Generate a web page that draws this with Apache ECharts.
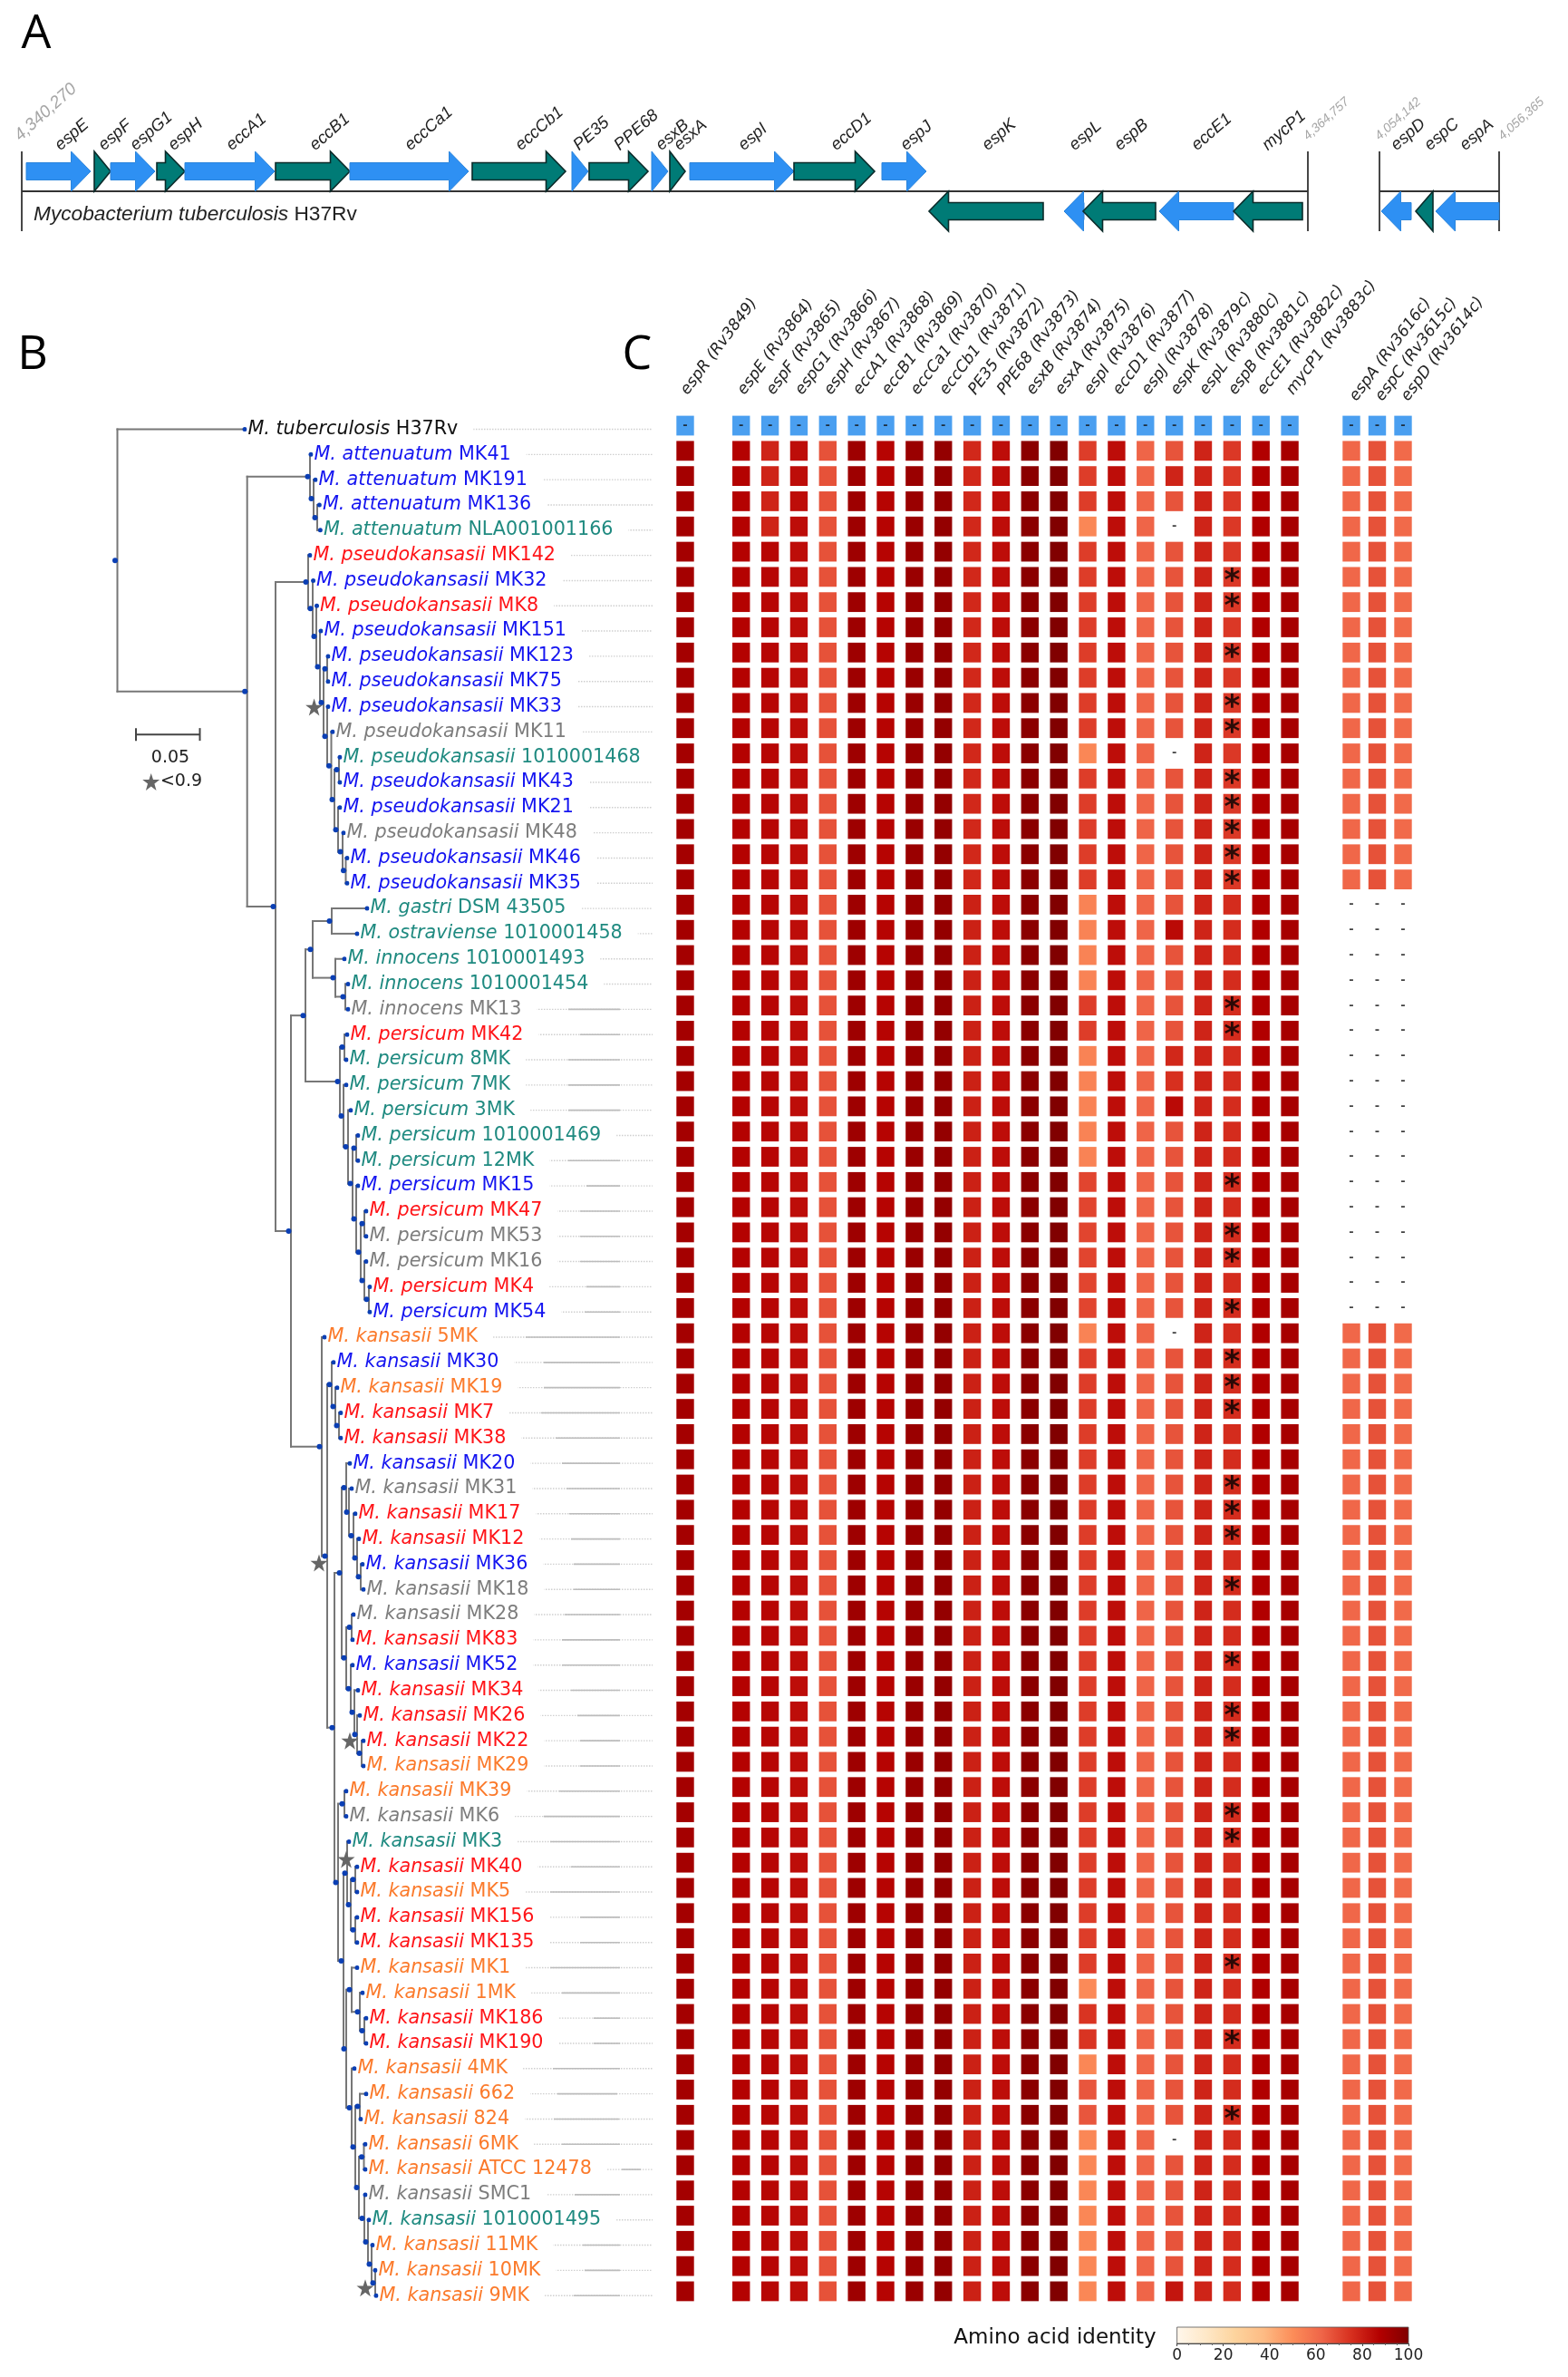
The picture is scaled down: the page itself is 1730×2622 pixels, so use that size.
<!DOCTYPE html>
<html><head><meta charset="utf-8">
<style>html,body{margin:0;padding:0;background:#fff}#c{width:1730px;height:2622px}</style>
<script src="https://cdn.jsdelivr.net/npm/echarts@6/dist/echarts.min.js"></script>
</head><body><div id="c"></div>
<script>
// ---------- Panel A: gene map (position = horizontal map position, strand 1 / -1)
const geneNames  = ['espE','espF','espG1','espH','eccA1','eccB1','eccCa1','eccCb1','PE35','PPE68','esxB','esxA','espI','eccD1','espJ','espK','espL','espB','eccE1','mycP1','espD','espC','espA'];
const geneStart  = [29,104,122,173,204,304,386,521,631,650,719,739,761,876,973,1025,1174,1195,1279,1361,1524,1562,1584];
const geneEnd    = [100,122,171,204,303,386,517,624,649,715,737,756,876,965,1022,1151,1196,1275,1361,1437,1557,1581,1654];
const geneStrand = [1,1,1,1,1,1,1,1,1,1,1,1,1,1,1,-1,-1,-1,-1,-1,-1,-1,-1];
const geneClass  = ['b','t','b','t','b','t','b','t','b','t','b','t','b','t','b','t','b','t','b','t','b','t','b'];
const geneLabelX = [63.5,111.5,146.5,188.5,252.5,344.5,449.5,571.5,635.5,680.5,726.5,746.5,817.5,919.5,996.5,1086.5,1182.5,1232.5,1317.5,1395.5,1537.5,1574.5,1613.5];
const locusBounds = [[24,1443],[1522,1654]];
const coordLabels = ['4,340,270','4,364,757','4,054,142','4,056,365'];
const coordLabelX = [19,1440.5,1519.5,1655.5];
const coordLabelSize = [19,14,14,14];

// ---------- Panel B: strains and tree
const rowNames = ['M. tuberculosis|H37Rv','M. attenuatum|MK41','M. attenuatum|MK191','M. attenuatum|MK136','M. attenuatum|NLA001001166',
'M. pseudokansasii|MK142','M. pseudokansasii|MK32','M. pseudokansasii|MK8','M. pseudokansasii|MK151','M. pseudokansasii|MK123','M. pseudokansasii|MK75','M. pseudokansasii|MK33','M. pseudokansasii|MK11','M. pseudokansasii|1010001468','M. pseudokansasii|MK43','M. pseudokansasii|MK21','M. pseudokansasii|MK48','M. pseudokansasii|MK46','M. pseudokansasii|MK35',
'M. gastri|DSM 43505','M. ostraviense|1010001458','M. innocens|1010001493','M. innocens|1010001454','M. innocens|MK13',
'M. persicum|MK42','M. persicum|8MK','M. persicum|7MK','M. persicum|3MK','M. persicum|1010001469','M. persicum|12MK','M. persicum|MK15','M. persicum|MK47','M. persicum|MK53','M. persicum|MK16','M. persicum|MK4','M. persicum|MK54',
'M. kansasii|5MK','M. kansasii|MK30','M. kansasii|MK19','M. kansasii|MK7','M. kansasii|MK38','M. kansasii|MK20','M. kansasii|MK31','M. kansasii|MK17','M. kansasii|MK12','M. kansasii|MK36','M. kansasii|MK18','M. kansasii|MK28','M. kansasii|MK83','M. kansasii|MK52','M. kansasii|MK34','M. kansasii|MK26','M. kansasii|MK22','M. kansasii|MK29','M. kansasii|MK39','M. kansasii|MK6','M. kansasii|MK3','M. kansasii|MK40','M. kansasii|MK5','M. kansasii|MK156','M. kansasii|MK135','M. kansasii|MK1','M. kansasii|1MK','M. kansasii|MK186','M. kansasii|MK190','M. kansasii|4MK','M. kansasii|662','M. kansasii|824','M. kansasii|6MK','M. kansasii|ATCC 12478','M. kansasii|SMC1','M. kansasii|1010001495','M. kansasii|11MK','M. kansasii|10MK','M. kansasii|9MK'];
const rowGroups = ['k','bbb','t','r','b','r','bbbb','g','t','bb','g','bb','tttt','g','r','ttttt','b','r','gg','r','b','o','b','o','rr','b','g','rr','b','g','g','r','b','rrr','o','o','g','t','r','o','rr','o','o','rr','ooooo','g','t','ooo'].join('').split('');
const tipX = [270,343,348,352.4,353.4,342,345.6,349.5,354,362,362,362,367,375,375,375,379,383,383,405,394,380,384,384,383,382,382,387,395,395,395,404,404,404,408,408,358,368,372,376,376,386,388,392,396,400,401,390,389,389,395,397,401,401,382,382,385,394,394,394,394,394,400,404,404,391,404,398,403,403,403,407,411,414,415];
// nested [branch position, child, child]; a bare number is a row index
const tree = [129.5, 0,
 [272.7,
  [342, 1, [346, 2, [350, 3, 4]]],
  [304,
   [340, 5, [345, 6, [349, 7, [353, 8, [357, [361, 9, 10], [361, 11, [365.5, 12, [369, [374, 13, 14], [373, 15, [378, 16, [381.5, 17, 18]]]]]]]]]]],
   [321,
    [337,
     [345, [366, 19, 20], [370, 21, [381, 22, 23]]],
     [375, [380, 24, 25], [379, 26, [384, 27, [389, [393, 28, 29], [393, 30, [398, [402, 31, 32], [402, 33, [407, 34, 35]]]]]]]]],
    [355, 36,
     [361,
      [366, 37, [370, 38, [374, 39, 40]]],
      [369,
       [377,
        [382, 41, [385, 42, [390, 43, [394, 44, [398, 45, 46]]]]],
        [382, [388, 47, 48], [387, 49, [391, 50, [394, 51, [399, 52, 53]]]]]],
       [373, [380, 54, 55],
        [379,
         [383, 56, [387, [392, 57, 58], [392, 59, 60]]],
         [382,
          [388, 61, [397, 62, [402, 63, 64]]],
          [388, 65, [392, [397, 66, 67], [396, [401.5, 68, 69], [402, 70, [406, 71, [410, 72, [414, 73, 74]]]]]]]]]]]]]]]]];
const lowSupportX = [346.6,352,386,382,403,166.7];
const lowSupportRow = [11.02,44.95,52,56.7,73.7,13.98];
const scaleBar = [150,220.5];
const scaleBarRow = 12.1;
const leaderEnd = 720;
// denser middle stretch of the alignment tracks: [row, from, to]
const leaderCores = [[23,627,684],[24,640,684],[25,627,684],[26,627,684],[27,627,684],[29,627,684],[30,647,684],[31,640,684],[32,640,684],[33,640,684],[34,647,684],[35,645,684],[36,580,684],[37,600,684],[38,600,684],[39,597,684],[40,613,684],[41,620,684],[42,625,684],[43,628,684],[44,630,684],[45,633,684],[46,633,684],[47,623,684],[48,620,684],[49,620,684],[50,630,684],[51,637,684],[52,640,684],[53,640,684],[54,617,684],[55,600,684],[56,607,684],[57,630,684],[58,607,684],[59,640,684],[60,640,684],[61,607,684],[62,620,684],[63,655,684],[64,655,684],[65,610,684],[66,615,681],[67,611,683],[68,620,684],[69,686,707],[70,634,684],[72,643,684],[73,645,684],[74,633,684]];

// ---------- Panel C: amino acid identity
const colNamesR = ['espR (Rv3849)'];
const colNamesMain = ['espE (Rv3864)','espF (Rv3865)','espG1 (Rv3866)','espH (Rv3867)','eccA1 (Rv3868)','eccB1 (Rv3869)','eccCa1 (Rv3870)','eccCb1 (Rv3871)','PE35 (Rv3872)','PPE68 (Rv3873)','esxB (Rv3874)','esxA (Rv3875)','espI (Rv3876)','eccD1 (Rv3877)','espJ (Rv3878)','espK (Rv3879c)','espL (Rv3880c)','espB (Rv3881c)','eccE1 (Rv3882c)','mycP1 (Rv3883c)'];
const colNamesC = ['espA (Rv3616c)','espC (Rv3615c)','espD (Rv3614c)'];
const identityBase = {espR:91,espE:87,espF:86,espG1:84,espH:67,eccA1:92.5,eccB1:86.5,eccCa1:93.5,eccCb1:95,PE35:79,PPE68:84,esxB:97,esxA:99.5,espI:72,eccD1:84,espJ:62.5,espK:66.5,espL:78,espB:76,eccE1:88,mycP1:90.5,espA:62,espC:67,espD:61};
// [first row, last row, identity]; null = gene absent
const identityRanges = {
 espF:[[1,4,78]],
 espI:[[4,4,52],[13,13,52],[19,22,53],[25,29,53],[30,35,70],[36,36,53],[62,62,51],[63,64,74],[65,65,52],[66,67,66],[68,74,52]],
 espK:[[2,2,78],[4,4,null],[13,13,null],[20,20,85],[25,25,77],[26,26,75],[27,27,85],[36,36,null],[68,68,null],[74,74,82]],
 espB:[[1,18,73]],
 PE35:[[1,18,77]],
 espA:[[19,35,null]], espC:[[19,35,null]], espD:[[19,35,null]]
};
const asteriskRows = [6,7,9,11,12,14,15,16,17,18,23,24,30,32,33,35,37,38,39,42,43,44,46,49,51,52,55,56,61,64,67];
const colorbarTicks = [0,20,40,60,80,100];
const identityPalette = ['#fff7ec','#fee8c8','#fdd49e','#fdbb84','#fc8d59','#ef6548','#d7301f','#b30000','#7f0000'];

// ---------- styles and layout
const GROUP_COLOR = {k:'#111111',b:'#1414f0',t:'#1f8a80',r:'#ff1418',g:'#7d7d7d',o:'#fb7a2b'};
const SANS = '"DejaVu Sans"';
const CELL_ROW = 27.81, CELL_TOP = 455.6, TREE_ROW = 27.82, TREE_TOP = 459.6;
const STAR = 'path://M50 2 L62 37 L99 37 L69 59 L80 95 L50 73 L20 95 L31 59 L1 37 L38 37 Z';

function rowIdentity(col,row){
  for(const [a,b,v] of (identityRanges[col]||[])) if(row>=a&&row<=b) return v;
  return identityBase[col];
}
const edges=[], nodeDots=[];
(function layout(n){
  if(typeof n==='number') return {x:tipX[n],y:n};
  const x=n[0], kids=n.slice(1).map(layout);
  const y=(kids[0].y+kids[kids.length-1].y)/2;
  edges.push([x,kids[0].y,x,kids[kids.length-1].y]);
  kids.forEach(k=>edges.push([x,k.y,k.x,k.y]));
  nodeDots.push([x,y]);
  return {x,y};
})(tree);

const grid=[
 {left:0,width:1730,top:145,height:132},
 {left:0,width:760,top:TREE_TOP,height:TREE_ROW*75},
 {left:740,width:32,top:CELL_TOP,height:CELL_ROW*75},
 {left:801.8,width:637.2,top:CELL_TOP,height:CELL_ROW*75},
 {left:1476.75,width:85.5,top:CELL_TOP,height:CELL_ROW*75},
 {left:1298.6,width:255.4,top:2567,height:18}
];
const hidden={show:false};
const rowCats=rowNames.map(n=>n);
const headerAxis=(names,gi)=>({type:'category',gridIndex:gi,data:names,show:false});
const rowAxis=gi=>({type:'category',gridIndex:gi,data:rowCats,inverse:true,show:false});
const xAxis=[
 {type:'value',gridIndex:0,min:0,max:1730,show:false},
 {type:'value',gridIndex:1,min:0,max:760,show:false},
 headerAxis(colNamesR,2),headerAxis(colNamesMain,3),headerAxis(colNamesC,4),
 {type:'value',gridIndex:5,min:0,max:100,interval:20,position:'bottom',axisLine:{show:true,lineStyle:{color:'#444',width:1}},
   axisTick:{show:true,length:3,inside:false,lineStyle:{color:'#444'}},minorTick:{show:true,length:2,splitNumber:4,lineStyle:{color:'#666'}},splitLine:hidden,minorSplitLine:hidden,
   axisLabel:{fontFamily:SANS,fontSize:17,color:'#222',margin:5,customValues:colorbarTicks,showMinLabel:true,showMaxLabel:true}}
];
const yAxis=[
 {type:'value',gridIndex:0,min:-3,max:3,show:false},
 {type:'value',gridIndex:1,min:-0.5,max:74.5,inverse:true,show:false},
 rowAxis(2),rowAxis(3),rowAxis(4),
 {type:'value',gridIndex:5,min:0,max:1,show:false}
];

const series=[];
// gene arrows
series.push({type:'custom',xAxisIndex:0,yAxisIndex:0,silent:true,clip:false,z:3,
 data:geneNames.map((n,i)=>[geneStart[i],geneEnd[i],geneStrand[i]]),
 renderItem(p,api){
  const i=p.dataIndex,st=api.value(2);
  const a=api.coord([api.value(0),st]),b=api.coord([api.value(1),st]);
  const len=b[0]-a[0],head=Math.min(21.5,len),hh=22,hs=9.5,y=a[1],blue=geneClass[i]==='b';
  const tail=st>0?a[0]:b[0],tip=st>0?b[0]:a[0],d=st>0?1:-1,neck=tip-d*head;
  const pts=len<=21.5?[[tail,y-hh],[tip,y],[tail,y+hh]]
   :[[tail,y-hs],[neck,y-hs],[neck,y-hh],[tip,y],[neck,y+hh],[neck,y+hs],[tail,y+hs]];
  return {type:'polygon',shape:{points:pts},style:{fill:blue?'#2e90f3':'#007b76',stroke:blue?'#2a84dc':'#0b2b2a',lineWidth:blue?1:1.6}};
 }});
// locus lines
series.push({type:'custom',xAxisIndex:0,yAxisIndex:0,silent:true,clip:false,z:2,
 data:locusBounds,
 renderItem(p,api){
  const l=api.coord([api.value(0),0]),r=api.coord([api.value(1),0]);
  const up=api.coord([0,2])[1],dn=api.coord([0,-2])[1];
  const st={stroke:'#333',lineWidth:1.8};
  return {type:'group',children:[
   {type:'line',shape:{x1:l[0],y1:l[1],x2:r[0],y2:r[1]},style:{stroke:'#333',lineWidth:2.2}},
   {type:'line',shape:{x1:l[0],y1:up,x2:l[0],y2:dn},style:st},
   {type:'line',shape:{x1:r[0],y1:up,x2:r[0],y2:dn},style:st}]};
 }});
// rotated labels
const rotText=(pt,text,font,fill,deg)=>({type:'text',x:pt[0],y:pt[1],rotation:deg*Math.PI/180,style:{text,font,fill,align:'left',verticalAlign:'middle'}});
series.push({type:'custom',xAxisIndex:0,yAxisIndex:0,silent:true,clip:false,z:4,
 data:geneLabelX.map(x=>[x,2.2]),
 renderItem(p,api){return rotText(api.coord([api.value(0),api.value(1)]),geneNames[p.dataIndex],'italic 18.5px "Liberation Sans"','#222',41);}});
series.push({type:'custom',xAxisIndex:0,yAxisIndex:0,silent:true,clip:false,z:4,
 data:coordLabelX.map(x=>[x,2.68]),
 renderItem(p,api){const i=p.dataIndex;return rotText(api.coord([api.value(0),api.value(1)]),coordLabels[i],'italic '+coordLabelSize[i]+'px "Liberation Sans"','#a6a6a6',42);}});
// leaders, tree, scale bar
series.push({type:'custom',xAxisIndex:1,yAxisIndex:1,silent:true,clip:false,z:1,
 data:tipX.map((x,i)=>[x,i]),
 renderItem(p,api){const a=api.coord([api.value(0),api.value(1)]),b=api.coord([leaderEnd,api.value(1)]);
  return {type:'line',shape:{x1:a[0],y1:a[1],x2:b[0],y2:b[1]},style:{stroke:'#cfcfcf',lineWidth:1.4,lineDash:[1.5,1.5]}};}});
series.push({type:'custom',xAxisIndex:1,yAxisIndex:1,silent:true,clip:false,z:1,
 data:leaderCores.map(d=>[d[1],d[0],d[2]]),
 renderItem(p,api){const a=api.coord([api.value(0),api.value(1)]),b=api.coord([api.value(2),api.value(1)]);
  return {type:'line',shape:{x1:a[0],y1:a[1],x2:b[0],y2:b[1]},style:{stroke:'#bcbcbc',lineWidth:1.6}};}});
series.push({type:'custom',xAxisIndex:1,yAxisIndex:1,silent:true,clip:false,z:3,
 data:edges,
 renderItem(p,api){const a=api.coord([api.value(0),api.value(1)]),b=api.coord([api.value(2),api.value(3)]);
  return {type:'line',shape:{x1:a[0],y1:a[1],x2:b[0],y2:b[1]},style:{stroke:'#777',lineWidth:2,lineCap:'square'}};}});
series.push({type:'custom',xAxisIndex:1,yAxisIndex:1,silent:true,clip:false,z:3,
 data:[[scaleBar[0],scaleBar[1],scaleBarRow]],
 renderItem(p,api){const a=api.coord([api.value(0),api.value(2)]),b=api.coord([api.value(1),api.value(2)]);const st={stroke:'#444',lineWidth:2};
  return {type:'group',children:[{type:'line',shape:{x1:a[0],y1:a[1],x2:b[0],y2:b[1]},style:st},
   {type:'line',shape:{x1:a[0],y1:a[1]-7,x2:a[0],y2:a[1]+7},style:st},{type:'line',shape:{x1:b[0],y1:b[1]-7,x2:b[0],y2:b[1]+7},style:st}]};}});
// strain labels
const labelRich={};
Object.keys(GROUP_COLOR).forEach(g=>{labelRich['i'+g]={fontStyle:'italic',color:GROUP_COLOR[g],fontFamily:SANS,fontSize:20.7};labelRich['n'+g]={color:GROUP_COLOR[g],fontFamily:SANS,fontSize:20.7};});
series.push({type:'scatter',xAxisIndex:1,yAxisIndex:1,silent:true,z:5,clip:false,symbolSize:5,itemStyle:{color:'#0b3fb4',opacity:1},
 data:tipX.map((x,i)=>{const [sp,id]=rowNames[i].split('|'),g=rowGroups[i];
  return {value:[x,i],label:{show:true,position:'right',distance:0,backgroundColor:'#fff',padding:[0,17,0,1],rich:labelRich,formatter:'{i'+g+'|'+sp+' }{n'+g+'|'+id+'}'}};})});
series.push({type:'scatter',xAxisIndex:1,yAxisIndex:1,silent:true,z:6,clip:false,symbolSize:6,symbolOffset:[-2.5,0],itemStyle:{color:'#0b3fb4',opacity:1},data:nodeDots});
series.push({type:'scatter',xAxisIndex:1,yAxisIndex:1,silent:true,z:7,clip:false,symbol:STAR,symbolSize:19,itemStyle:{color:'#666',opacity:1},data:lowSupportX.map((x,i)=>[x,lowSupportRow[i]])});
// heat blocks
const blocks=[{names:colNamesR,ax:2,dx:-1,dy:-36},{names:colNamesMain,ax:3,dx:0,dy:-36},{names:colNamesC,ax:4,dx:2,dy:-29}];
const heatIdx=[];
blocks.forEach(b=>{
 const cells=[],marks=[],header=[];
 b.names.forEach((nm,c)=>{
  const key=nm.split(' ')[0];
  header.push([c,0]);
  marks.push({value:[c,0],label:{show:true,formatter:'-',fontSize:13,fontFamily:SANS,color:'#111',fontWeight:'bold'}});
  for(let r=1;r<rowNames.length;r++){
   const v=rowIdentity(key,r);
   if(v===null) marks.push({value:[c,r],label:{show:true,formatter:'-',fontSize:13,fontFamily:SANS,color:'#111',fontWeight:'bold'}});
   else cells.push([c,r,v]);
  }
  if(key==='espB') asteriskRows.forEach(r=>marks.push({value:[c,r],label:{show:true,formatter:'*',fontSize:34,fontWeight:'bold',fontFamily:SANS,color:'#000',offset:[0,6]}}));
 });
 heatIdx.push(series.length);
 series.push({type:'scatter',xAxisIndex:b.ax,yAxisIndex:b.ax,silent:true,symbol:'rect',symbolSize:[19.4,21.8],z:3,itemStyle:{opacity:1},data:cells});
 series.push({type:'scatter',xAxisIndex:b.ax,yAxisIndex:b.ax,silent:true,symbol:'rect',symbolSize:[19.4,21.8],z:3,itemStyle:{color:'#4a9ff0',opacity:1},data:header});
 series.push({type:'scatter',xAxisIndex:b.ax,yAxisIndex:b.ax,silent:true,symbol:'rect',symbolSize:0.1,z:6,itemStyle:{color:'rgba(0,0,0,0)'},data:marks});
 // column headers, placed through the category axis
 series.push({type:'custom',xAxisIndex:b.ax,yAxisIndex:b.ax,silent:true,clip:false,z:4,
  data:b.names.map((n,c)=>[c,0]),
  renderItem(p,api){const pt=api.coord([api.value(0),api.value(1)]);
   return rotText([pt[0]+b.dx,pt[1]+b.dy],b.names[p.dataIndex],'italic 17.3px '+SANS,'#222',53);}});
});
// colour bar
series.push({type:'custom',xAxisIndex:5,yAxisIndex:5,silent:true,z:3,
 data:[[0,100]],
 renderItem(p,api){const a=api.coord([api.value(0),1]),b=api.coord([api.value(1),0]);
  const n=identityPalette.length-1;
  return {type:'rect',shape:{x:a[0],y:a[1],width:b[0]-a[0],height:b[1]-a[1]},
   style:{stroke:'#555',lineWidth:0.8,fill:new echarts.graphic.LinearGradient(0,0,1,0,identityPalette.map((color,i)=>({offset:i/n,color})))}};}});

const txt=(x,y,text,font,fill,extra)=>({type:'text',x,y,silent:true,style:Object.assign({text,font,fill:fill||'#000',align:'center',verticalAlign:'middle'},extra||{})});
const graphic=[
 txt(40,38,'A','52px "Open Sans"'),
 txt(36,392,'B','52px "Open Sans"'),
 txt(703,392,'C','52px "Open Sans"'),
 {type:'text',x:37,y:237,silent:true,style:{text:'{i|Mycobacterium tuberculosis }{n|H37Rv}',verticalAlign:'middle',rich:{i:{font:'italic 22.7px "Liberation Sans"',fill:'#222'},n:{font:'22.7px "Liberation Sans"',fill:'#222'}}}},
 txt(188,836,'0.05','19px '+SANS,'#222'),
 txt(200,862,'<0.9','19px '+SANS,'#222'),
 txt(1164,2579,'Amino acid identity','23px '+SANS,'#111')
];

const chart=echarts.init(document.getElementById('c'),null,{renderer:'canvas',width:1730,height:2622});
chart.setOption({animation:false,backgroundColor:'#fff',grid,xAxis,yAxis,series,graphic,tooltip:{show:false},
 visualMap:[{show:false,type:'continuous',min:0,max:100,dimension:2,seriesIndex:heatIdx,inRange:{color:identityPalette}}]});
</script></body></html>
